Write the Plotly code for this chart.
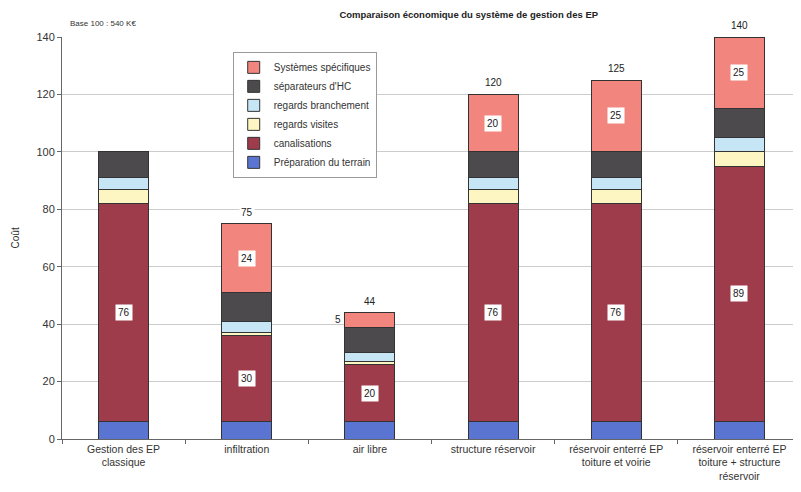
import plotly.graph_objects as go

categories = ["Gestion des EP<br>classique", "infiltration", "air libre", "structure réservoir",
              "réservoir enterré EP<br>toiture et voirie",
              "réservoir enterré EP<br>toiture + structure<br>réservoir"]

preparation = [6, 6, 6, 6, 6, 6]
canalisations = [76, 30, 20, 76, 76, 89]
regards_visites = [5, 1, 1, 5, 5, 5]
regards_branchement = [4, 4, 3, 4, 4, 5]
separateurs = [9, 10, 9, 9, 9, 10]
specifiques = [0, 24, 5, 20, 25, 25]
totals = [None, 75, 44, 120, 125, 140]

series = [
    ("Préparation du terrain", preparation, "#5a74d2"),
    ("canalisations", canalisations, "#9e3c4c"),
    ("regards visites", regards_visites, "#fdf6c2"),
    ("regards branchement", regards_branchement, "#c6e6f6"),
    ("séparateurs d'HC", separateurs, "#4c4a4c"),
    ("Systèmes spécifiques", specifiques, "#f2867e"),
]

fig = go.Figure()
for name, vals, col in series:
    fig.add_trace(go.Bar(x=categories, y=vals, name=name,
                         marker=dict(color=col, line=dict(color="#333333", width=1)),
                         width=0.405))

annotations = []
font_lab = dict(family="Liberation Sans, Arial", size=10, color="#222222")
for i, cat in enumerate(categories):
    base_c = preparation[i]
    annotations.append(dict(x=cat, y=base_c + canalisations[i] / 2, text=str(canalisations[i]),
                            showarrow=False, bgcolor="white", font=font_lab, borderpad=2))
    base_s = preparation[i] + canalisations[i] + regards_visites[i] + regards_branchement[i] + separateurs[i]
    if specifiques[i] >= 10:
        annotations.append(dict(x=cat, y=base_s + specifiques[i] / 2, text=str(specifiques[i]),
                                showarrow=False, bgcolor="white", font=font_lab, borderpad=2))
    elif specifiques[i] > 0:
        annotations.append(dict(x=cat, y=base_s + specifiques[i] / 2, text=str(specifiques[i]),
                                showarrow=False, xshift=-32, font=font_lab))
    if totals[i] is not None:
        annotations.append(dict(x=cat, y=totals[i], text=str(totals[i]), showarrow=False,
                                yanchor="bottom", yshift=4, font=font_lab, bgcolor="white"))

annotations.append(dict(x=0.008, y=1.033, xref="paper", yref="paper", xanchor="left",
                        yanchor="middle", text="Base 100 : 540 K€", showarrow=False,
                        font=dict(family="Liberation Sans, Arial", size=8, color="#333333")))
annotations.append(dict(x=-0.063, y=0.5, xref="paper", yref="paper", xanchor="center",
                        yanchor="middle", text="Coût", showarrow=False, textangle=-90,
                        font=dict(family="Liberation Sans, Arial", size=10, color="#333333")))

fig.update_layout(
    annotations=annotations,
    barmode="stack",
    width=793, height=484,
    margin=dict(l=54, r=0, t=29, b=53),
    paper_bgcolor="white", plot_bgcolor="white",
    font=dict(family="Liberation Sans, Arial", size=10, color="#333333"),
    title=dict(text="<b>Comparaison économique du système de gestion des EP</b>",
               x=0.581, xanchor="center", y=0.9855, yanchor="middle",
               font=dict(size=9.5, color="#222222")),
    legend=dict(x=0.231, y=0.963, xanchor="left", yanchor="top",
                bordercolor="#9a9a9a", borderwidth=1, bgcolor="white",
                traceorder="reversed", font=dict(size=10, color="#333333"),
                itemwidth=30),
    showlegend=True,
)
fig.update_yaxes(range=[0, 140], dtick=20, showgrid=True, gridcolor="#cccccc",
                 showline=True, linecolor="#666666", ticks="outside", ticklen=4,
                 tickcolor="#666666", automargin=False, tickfont=dict(size=11))
fig.update_xaxes(showline=True, linecolor="#666666", ticks="outside", tickson="boundaries",
                 ticklen=4, tickcolor="#666666", tickfont=dict(size=10.5), automargin=False)

fig.write_html("out.html")
